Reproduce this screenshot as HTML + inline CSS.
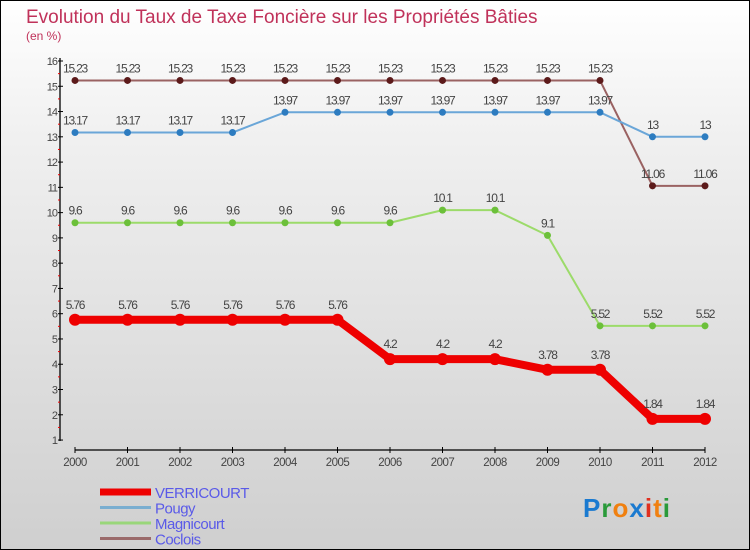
<!DOCTYPE html>
<html><head><meta charset="utf-8"><style>
body{margin:0}
#c{width:750px;height:550px;position:relative;box-sizing:border-box;border:1px solid #000;background:linear-gradient(#ffffff,#f0f0f0 25%,#cfcfcf);font-family:"Liberation Sans",sans-serif;overflow:hidden}
</style></head><body>
<div id="c">
<svg id="s" width="750" height="550" style="position:absolute;left:-1px;top:-1px">
<text x="26" y="23" font-size="19" fill="#c0325a" font-weight="normal">Evolution du Taux de Taxe Foncière sur les Propriétés Bâties</text>
<text x="26" y="40" font-size="12" fill="#c0325a">(en %)</text>
</svg>
</div>
<script>
const years=["2000","2001","2002","2003","2004","2005","2006","2007","2008","2009","2010","2011","2012"];
const yTicks=[1,2,3,4,5,6,7,8,9,10,11,12,13,14,15,16];
const verricourt=[5.76,5.76,5.76,5.76,5.76,5.76,4.2,4.2,4.2,3.78,3.78,1.84,1.84];
const pougy=[13.17,13.17,13.17,13.17,13.97,13.97,13.97,13.97,13.97,13.97,13.97,13,13];
const magnicourt=[9.6,9.6,9.6,9.6,9.6,9.6,9.6,10.1,10.1,9.1,5.52,5.52,5.52];
const coclois=[15.23,15.23,15.23,15.23,15.23,15.23,15.23,15.23,15.23,15.23,15.23,11.06,11.06];
const seriesNames=["VERRICOURT","Pougy","Magnicourt","Coclois"];
const NS="http://www.w3.org/2000/svg";
const s=document.getElementById('s');
const X=i=>75+i*52.5;
const Y=v=>61+(16-v)*25.27;
function el(t,a,p){const e=document.createElementNS(NS,t);for(const k in a)e.setAttribute(k,a[k]);(p||s).appendChild(e);return e;}
let ya=el('line',{x1:60,y1:58,x2:60,y2:441,stroke:'#000','stroke-width':1.3});


yTicks.forEach(v=>{
  el('line',{x1:58,x2:63,y1:Y(v),y2:Y(v),stroke:'#000'});
  if(v<16){el('line',{x1:58,x2:60,y1:Y(v+0.5),y2:Y(v+0.5),stroke:'#e00'});}
  const t=el('text',{x:57,y:Y(v)+4,'font-size':11,fill:'#444','text-anchor':'end','letter-spacing':'-1'});
  t.textContent=v;
  
  
});
let xa=el('line',{x1:75,y1:450,x2:705,y2:450,stroke:'#000','stroke-width':1.3});


years.forEach((y,i)=>{
  el('line',{x1:X(i),x2:X(i),y1:447,y2:453,stroke:'#000'});
  const t=el('text',{x:X(i),y:466,'font-size':11.5,fill:'#444','text-anchor':'middle','letter-spacing':'-0.5'});
  t.textContent=y;
  
  
});
function series(data,line,dot,w,r,name,labelOff){
  const g=el('g',{});
  
  
  el('polyline',{points:data.map((v,i)=>X(i)+','+Y(v)).join(' '),fill:'none',stroke:line,'stroke-width':w,'stroke-linejoin':'round'},g);
  data.forEach((v,i)=>{
    const c=el('circle',{cx:X(i),cy:Y(v),r:r,fill:dot},g);
    
    
    const t=el('text',{x:X(i),y:Y(v)-labelOff,'font-size':12,fill:'#444','text-anchor':'middle','letter-spacing':'-1.2'},g);
    t.textContent=v;
    
    
  });
}
series(coclois,'#9a6262','#5c1a1a',2,3.5,'coclois-series',8);
series(pougy,'#6aa6d8','#2d7cc0',2,3.5,'pougy-series',8);
series(magnicourt,'#9cdb6a','#6cc03a',2,3.5,'magnicourt-series',8);
series(verricourt,'#ee0000','#ee0000',8,6,'verricourt-series',11);
const lc=['#ee0000','#7aaed0','#99d67a','#9a6a6a'];
const lw=[7,3,3,3];
seriesNames.forEach((n,i)=>{
  const y=492+i*15.5;
  const l=el('line',{x1:100,x2:151,y1:y,y2:y,stroke:lc[i],'stroke-width':lw[i]});
  
  
  const t=el('text',{x:155,y:y+6,'font-size':15,fill:'#5a5ae8','letter-spacing':'-0.5'});
  t.textContent=n;
  
  
});
const logo=el('text',{x:583,y:517,'font-size':26,'font-weight':'bold','letter-spacing':'1'});


[['P','#1a7ad0'],['r','#2a9a3a'],['o','#f08010'],['x','#1a7ad0'],['i','#e03020'],['t','#f08010'],['i','#2a9a3a']].forEach(([c,f])=>{const ts=el('tspan',{fill:f},logo);ts.textContent=c;});
</script>
</body></html>
